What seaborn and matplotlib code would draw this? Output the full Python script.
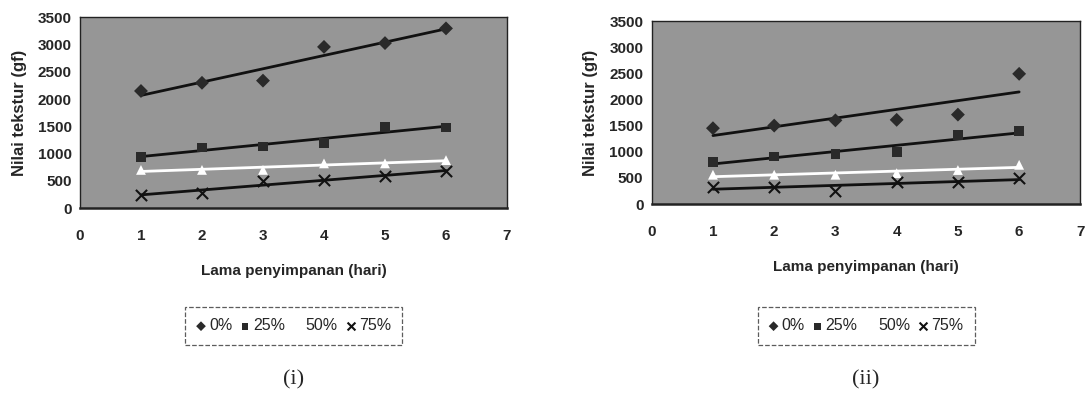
import matplotlib
matplotlib.use('Agg')
import matplotlib.pyplot as plt
import numpy as np
import pandas as pd
import seaborn as sns

sns.set_style('white')
plt.rcParams['font.family'] = ['Liberation Sans', 'DejaVu Sans']

# Storage time (days)
days = [1, 2, 3, 4, 5, 6]
levels = ['0%', '25%', '50%', '75%']

# Panel (i) texture values (gf)
panel_i_0 = [2150, 2300, 2340, 2960, 3030, 3300]
panel_i_25 = [940, 1110, 1130, 1190, 1490, 1480]
panel_i_50 = [700, 700, 700, 820, 820, 880]
panel_i_75 = [240, 280, 490, 520, 580, 680]

# Panel (ii) texture values (gf)
panel_ii_0 = [1450, 1500, 1600, 1610, 1710, 2490]
panel_ii_25 = [810, 910, 960, 990, 1320, 1390]
panel_ii_50 = [560, 560, 560, 590, 650, 750]
panel_ii_75 = [330, 330, 240, 430, 430, 490]

markers = {'0%': 'D', '25%': 's', '50%': '^', '75%': 'x'}
mcolors = {'0%': '#2a2a2a', '25%': '#2a2a2a', '50%': 'white', '75%': '#111111'}
lcolors = {'0%': '#111111', '25%': '#111111', '50%': 'white', '75%': '#111111'}


def make_df(series):
    rows = []
    for lev, vals in zip(levels, series):
        for d, v in zip(days, vals):
            rows.append({'hari': d, 'nilai': v, 'level': lev})
    return pd.DataFrame(rows)


def draw_panel(fig, ax, df, caption):
    ax.set_facecolor('#969696')
    for lev in levels:
        sub = df[df['level'] == lev]
        sns.regplot(data=sub, x='hari', y='nilai', ax=ax, ci=None, scatter=False,
                    truncate=True, line_kws={'color': lcolors[lev], 'lw': 2.0})
    for lev in levels:
        sub = df[df['level'] == lev]
        if markers[lev] == 'x':
            ax.scatter(sub['hari'], sub['nilai'], marker='x', s=65, color=mcolors[lev],
                       linewidths=1.5, zorder=5, label=lev)
        else:
            ax.scatter(sub['hari'], sub['nilai'], marker=markers[lev], s=50,
                       color=mcolors[lev], edgecolors='none', zorder=5, label=lev)
    ax.set_xlim(0, 7)
    ax.set_ylim(0, 3500)
    ax.set_xticks(range(0, 8))
    ax.set_yticks(range(0, 3501, 500))
    ax.tick_params(axis='x', direction='inout', length=6, width=1, pad=12,
                   labelsize=11)
    ax.tick_params(axis='y', direction='out', length=3, width=1, pad=3,
                   labelsize=11)
    for lab in ax.get_xticklabels() + ax.get_yticklabels():
        lab.set_fontweight('bold')
    for sp in ax.spines.values():
        sp.set_color('#222222')
        sp.set_linewidth(1.0)
    ax.spines['bottom'].set_linewidth(1.8)
    ax.set_xlabel('Lama penyimpanan (hari)', fontsize=11, fontweight='bold',
                  labelpad=15)
    ax.set_ylabel('Nilai tekstur (gf)', fontsize=12, fontweight='bold',
                  labelpad=8)

    pos = ax.get_position()
    cx = (pos.x0 + pos.x1) / 2
    handles, labels = ax.get_legend_handles_labels()
    leg = fig.legend(handles, labels, loc='center', bbox_to_anchor=(cx, 0.175),
                     ncol=4, frameon=True, fancybox=False, fontsize=11.5,
                     handlelength=0.6, handletextpad=0.2, columnspacing=0.5,
                     borderpad=0.7, markerscale=0.7)
    frame = leg.get_frame()
    frame.set_edgecolor('#333333')
    frame.set_linestyle('--')
    frame.set_linewidth(0.9)
    fig.text(cx, 0.038, caption, ha='center', va='center', fontsize=16,
             family=['Liberation Serif', 'DejaVu Serif'])


fig = plt.figure(figsize=(10.88, 3.95), dpi=100)
ax1 = fig.add_axes([0.0735, 0.4734, 0.3925, 0.4823])
ax2 = fig.add_axes([0.599, 0.4835, 0.394, 0.4633])

df1 = make_df([panel_i_0, panel_i_25, panel_i_50, panel_i_75])
df2 = make_df([panel_ii_0, panel_ii_25, panel_ii_50, panel_ii_75])

draw_panel(fig, ax1, df1, '(i)')
draw_panel(fig, ax2, df2, '(ii)')

fig.savefig('out.png', dpi=100)
